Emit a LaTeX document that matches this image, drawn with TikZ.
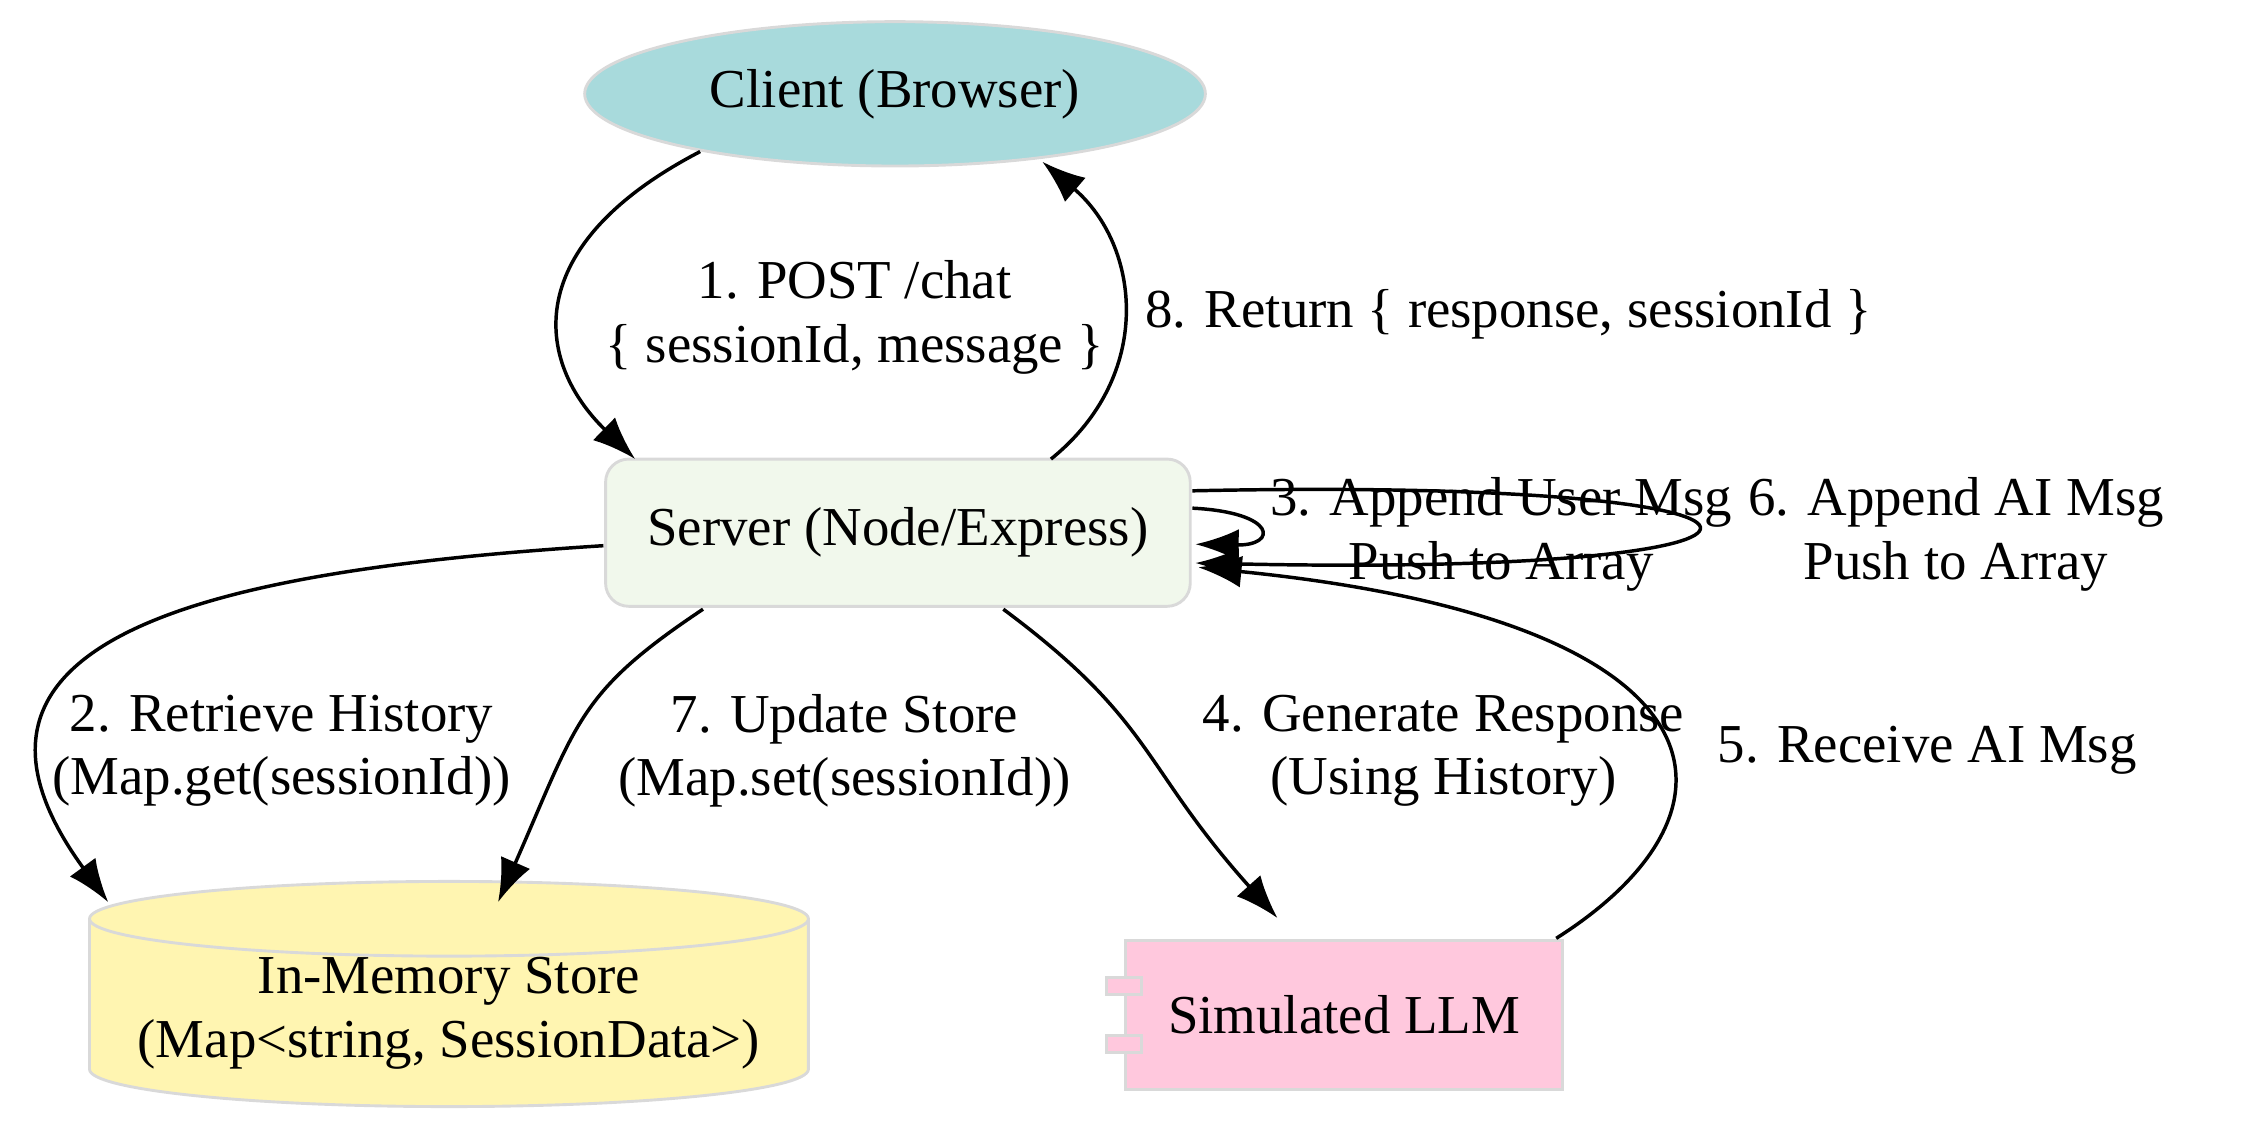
\documentclass[tikz,border=0pt]{standalone}
\usepackage{fontspec}
\setmainfont{Liberation Serif}
\usetikzlibrary{shapes.geometric,arrows.meta}
\definecolor{clientblue}{HTML}{A8DADC}
\definecolor{servergreen}{HTML}{F1F8EC}
\definecolor{storeyellow}{HTML}{FFF5B1}
\definecolor{llmpink}{HTML}{FFC8DD}
\definecolor{bordergray}{HTML}{D9D9D9}

\begin{document}
\begin{tikzpicture}[x=1pt,y=-1pt,font=\fontsize{38}{44}\selectfont]
  \tikzset{NodeStyle/.style = {
    draw          = bordergray,
    line width    = 2pt,
    text          = black,
    align         = center,
    inner sep     = 0pt
    }
  }
  \tikzset{EdgeStyle/.style = {
    draw          = black,
    line width    = 2.4pt,
    -{Latex[length=30pt,width=22pt]}
    }
  }
  \tikzset{EdgeLabelStyle/.style = {
    align         = center,
    text          = black
    }
  }
  \useasboundingbox (0,0) rectangle (1560,792);

	\node[NodeStyle, ellipse, fill=clientblue, minimum width=430, minimum height=100](Cl) at (620,65) {Client (Browser)};
	\node[NodeStyle, rectangle, rounded corners=16pt, fill=servergreen, minimum width=405, minimum height=102](Sv) at (622,369) {Server (Node/Express)};
	\node[NodeStyle, cylinder, shape border rotate=90, aspect=0.12, fill=storeyellow, minimum width=498, minimum height=148](St) at (311,702) {In-Memory Store\\(Map<string, SessionData>)};
	\node[NodeStyle, rectangle, fill=llmpink, minimum width=303, minimum height=103](Lm) at (931,703) {Simulated LLM};
	\draw[NodeStyle, fill=llmpink] ([xshift=-12,yshift=-14]Lm.west) rectangle ([xshift=12,yshift=-26]Lm.west);
	\draw[NodeStyle, fill=llmpink] ([xshift=-12,yshift=26]Lm.west) rectangle ([xshift=12,yshift=14]Lm.west);

	\draw[EdgeStyle] (485,105) .. controls (360,170) and (370,250) .. (440,318);
	\node[EdgeLabelStyle](L1) at (592,220) {1. POST /chat\\\{ sessionId, message \}};
	\draw[EdgeStyle] (728,318) .. controls (800,260) and (790,170) .. (722,112);
	\node[EdgeLabelStyle](L8) at (1045,218) {8. Return \{ response, sessionId \}};
	\draw[EdgeStyle] (826,352) .. controls (885,355) and (885,378) .. (828,377);
	\node[EdgeLabelStyle](L3) at (1040,370) {3. Append User Msg\\Push to Array};
	\draw[EdgeStyle] (826,340) .. controls (1290,330) and (1290,400) .. (828,390);
	\node[EdgeLabelStyle](L6) at (1355,370) {6. Append AI Msg\\Push to Array};
	\draw[EdgeStyle] (418,378) .. controls (150,395) and (-60,440) .. (75,625);
	\node[EdgeLabelStyle](L2) at (195,520) {2. Retrieve History\\(Map.get(sessionId))};
	\draw[EdgeStyle] (487,422) .. controls (400,480) and (400,500) .. (345,625);
	\node[EdgeLabelStyle](L7) at (585,520) {7. Update Store\\(Map.set(sessionId))};
	\draw[EdgeStyle] (695,422) .. controls (800,500) and (790,530) .. (885,636);
	\node[EdgeLabelStyle](L4) at (1000,520) {4. Generate Response\\(Using History)};
	\draw[EdgeStyle] (1078,650) .. controls (1220,560) and (1200,430) .. (830,393);
	\node[EdgeLabelStyle](L5) at (1335,520) {5. Receive AI Msg};

\end{tikzpicture}
\end{document}
